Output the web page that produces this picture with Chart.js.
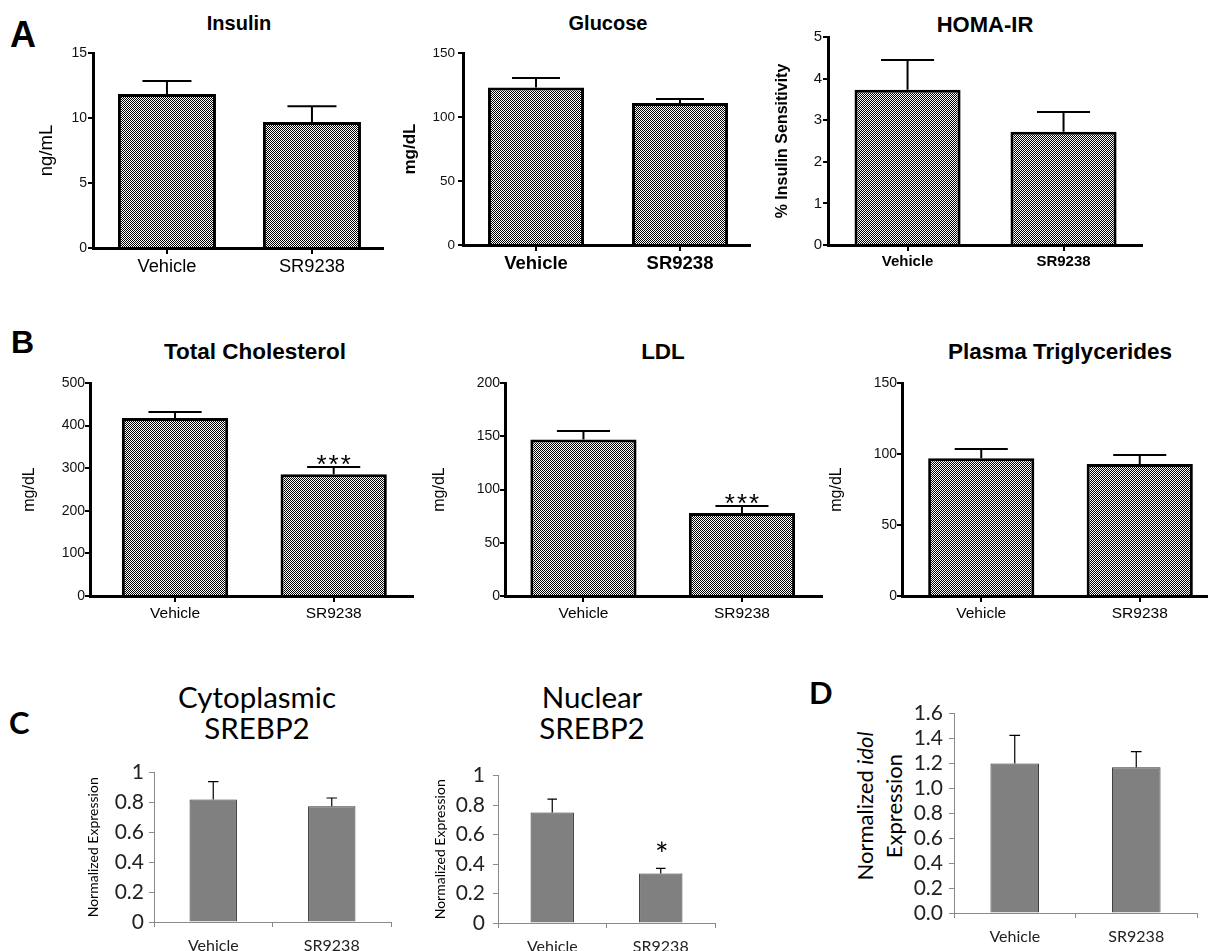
<!DOCTYPE html>
<html>
<head>
<meta charset="utf-8">
<title>SR9238 metabolic panels</title>
<script src="https://cdn.jsdelivr.net/npm/chart.js@4.4.1/dist/chart.umd.min.js"></script>
<style>
  html, body { margin: 0; padding: 0; background: #fff; }
  body { position: relative; width: 1208px; height: 951px; overflow: hidden; }
  canvas { position: absolute; }
  .txt { position: absolute; white-space: nowrap; transform: translate(-50%, -50%); line-height: 1; color: #000; text-align: center; }
  .letter { position: absolute; transform: translateY(-50%); line-height: 1; font-weight: bold; color: #000; }
  .prism { font-family: Arial, 'Liberation Sans', sans-serif; }
  .xl { font-family: Lato, 'Open Sans', sans-serif; }
  .bold { font-weight: bold; }
</style>
</head>
<body>

<div class="letter prism" style="left:10px;top:35px;font-size:36px">A</div>
<div class="letter prism" style="left:11px;top:342px;font-size:32px">B</div>
<div class="letter xl" style="left:9px;top:722px;font-size:31px">C</div>
<div class="letter xl" style="left:809px;top:692px;font-size:31px">D</div>

<div class="txt prism bold" style="left:239px;top:23px;font-size:20px">Insulin</div>
<div class="txt prism bold" style="left:608px;top:23px;font-size:20px">Glucose</div>
<div class="txt prism bold" style="left:985px;top:25px;font-size:22px">HOMA-IR</div>

<div class="txt prism bold" style="left:255px;top:352px;font-size:22.5px">Total Cholesterol</div>
<div class="txt prism bold" style="left:663px;top:352px;font-size:22.5px">LDL</div>
<div class="txt prism bold" style="left:1060px;top:352px;font-size:22.5px">Plasma Triglycerides</div>

<div class="txt xl" style="left:257px;top:712px;font-size:29.5px;line-height:31px">Cytoplasmic<br>SREBP2</div>
<div class="txt xl" style="left:592px;top:712px;font-size:29.5px;line-height:31px">Nuclear<br>SREBP2</div>

<div class="txt xl" style="left:879px;top:806px;font-size:22px;line-height:29px;transform:translate(-50%,-50%) rotate(-90deg)">Normalized <i>idol</i><br>Expression</div>

<script>
var groups = ["Vehicle", "SR9238"];

// A
var insulin = [11.85, 9.7];
var insulinErr = [1.0, 1.2];
var glucose = [123, 111];
var glucoseErr = [7.5, 3];
var homaIR = [3.73, 2.72];
var homaIRErr = [0.72, 0.48];

// B
var cholesterol = [418, 286];
var cholesterolErr = [14, 17];
var ldl = [147, 78];
var ldlErr = [8, 6.5];
var triglycerides = [97, 93];
var triglyceridesErr = [6.5, 6.3];

// C, D
var cytoSREBP2 = [0.82, 0.775];
var cytoSREBP2Err = [0.12, 0.055];
var nucSREBP2 = [0.75, 0.335];
var nucSREBP2Err = [0.09, 0.035];
var idol = [1.2, 1.17];
var idolErr = [0.225, 0.125];

var cholesterolStars = ["", "***"];
var ldlStars = ["", "***"];
var nucStars = ["", "*"];

var ARIAL = "Arial, 'Liberation Sans', sans-serif";
var CALIBRI = "Lato, 'Open Sans', sans-serif";

// checkered fill like the Prism bars
var checker = (function () {
  var c = document.createElement('canvas');
  c.width = 2; c.height = 2;
  var g = c.getContext('2d');
  g.fillStyle = '#fff'; g.fillRect(0, 0, 2, 2);
  g.fillStyle = '#000'; g.fillRect(0, 0, 1, 1); g.fillRect(1, 1, 1, 1);
  return g.createPattern(c, 'repeat');
})();

// one-sided (upper) SEM bars + significance stars
var errorBars = {
  id: 'errorBars',
  afterDatasetsDraw: function (chart, args, opts) {
    var ds = chart.data.datasets[0];
    if (!ds.errors) return;
    var meta = chart.getDatasetMeta(0);
    var y = chart.scales.y;
    var ctx = chart.ctx;
    ctx.save();
    ctx.strokeStyle = opts.color;
    ctx.lineWidth = opts.width;
    ctx.fillStyle = '#000';
    ctx.textAlign = 'center';
    ctx.textBaseline = 'alphabetic';
    ctx.font = opts.starFont;
    if ('letterSpacing' in ctx) ctx.letterSpacing = opts.starSpacing;
    meta.data.forEach(function (bar, i) {
      var top = y.getPixelForValue(ds.values[i] + ds.errors[i]);
      var half = bar.width * opts.cap / 2;
      ctx.beginPath();
      ctx.moveTo(bar.x, bar.y);
      ctx.lineTo(bar.x, top);
      ctx.moveTo(bar.x - half, top);
      ctx.lineTo(bar.x + half, top);
      ctx.stroke();
      if (ds.stars && ds.stars[i]) {
        ctx.fillText(ds.stars[i], bar.x + 1, top - opts.starGap);
      }
    });
    ctx.restore();
  }
};
Chart.register(errorBars);

var panels = [
  { prism: true, box: [30, 40, 360, 250], plot: [93, 53, 383, 248], xRange: [-0.51, 1.49], bar: 0.676,
    values: insulin, errors: insulinErr, max: 15, step: 5,
    tickSize: 14, tickPad: 1, xSize: 18.3, xBold: false, xPad: 2,
    yTitle: 'ng/mL', yTitleSize: 18.5, yTitleBold: false, yTitleX: 47 },
  { prism: true, box: [398, 40, 360, 250], plot: [463, 53, 750, 245], xRange: [-0.507, 1.486], bar: 0.667,
    values: glucose, errors: glucoseErr, max: 150, step: 50,
    tickSize: 13.5, tickPad: 3, xSize: 18.5, xBold: true, xPad: 2,
    yTitle: 'mg/dL', yTitleSize: 17, yTitleBold: true, yTitleX: 410 },
  { prism: true, box: [770, 25, 385, 265], plot: [828, 37, 1142, 245], xRange: [-0.51, 1.503], bar: 0.68,
    values: homaIR, errors: homaIRErr, max: 5, step: 1,
    tickSize: 15, tickPad: 1, xSize: 15, xBold: true, xPad: 2,
    yTitle: '% Insulin Sensitivity', yTitleSize: 16, yTitleBold: true, yTitleX: 783 },

  { prism: true, box: [18, 370, 400, 250], plot: [90, 383, 413, 596], xRange: [-0.536, 1.5], bar: 0.67,
    values: cholesterol, errors: cholesterolErr, stars: cholesterolStars, max: 500, step: 100,
    tickSize: 14, tickPad: 0, xSize: 15.5, xBold: false, xPad: 2,
    yTitle: 'mg/dL', yTitleSize: 16, yTitleBold: false, yTitleX: 30 },
  { prism: true, box: [428, 370, 400, 250], plot: [505, 383, 822, 596], xRange: [-0.495, 1.505], bar: 0.67,
    values: ldl, errors: ldlErr, stars: ldlStars, max: 200, step: 50,
    tickSize: 14, tickPad: 0, xSize: 15.5, xBold: false, xPad: 2,
    yTitle: 'mg/dL', yTitleSize: 16, yTitleBold: false, yTitleX: 440 },
  { prism: true, box: [825, 370, 400, 250], plot: [902, 383, 1219, 596], xRange: [-0.5, 1.5], bar: 0.67,
    values: triglycerides, errors: triglyceridesErr, max: 150, step: 50,
    tickSize: 14, tickPad: 0, xSize: 15.5, xBold: false, xPad: 2,
    yTitle: 'mg/dL', yTitleSize: 16, yTitleBold: false, yTitleX: 837 },

  { prism: false, box: [82, 755, 315, 196], plot: [154, 770, 391, 922], bar: 0.4,
    values: cytoSREBP2, errors: cytoSREBP2Err, max: 1, step: 0.2,
    tickSize: 21, tickPad: 5, xSize: 16, xPad: 9,
    yTitle: 'Normalized Expression', yTitleSize: 14, yTitleBold: false, yTitleX: 93,
    fmt: function (v) { return String(Math.round(v * 10) / 10); } },
  { prism: false, box: [428, 755, 292, 196], plot: [498, 768, 715, 923], bar: 0.4,
    values: nucSREBP2, errors: nucSREBP2Err, stars: nucStars, max: 1, step: 0.2,
    tickSize: 21, tickPad: 8, xSize: 16, xPad: 9,
    yTitle: 'Normalized Expression', yTitleSize: 14, yTitleBold: false, yTitleX: 440,
    fmt: function (v) { return String(Math.round(v * 10) / 10); } },
  { prism: false, box: [900, 695, 305, 256], plot: [954, 708, 1197, 913], bar: 0.4,
    values: idol, errors: idolErr, max: 1.6, step: 0.2,
    tickSize: 21, tickPad: 6, xSize: 16, xPad: 9,
    fmt: function (v) { return v.toFixed(1); } }
];

function makeChart(p) {
  var cv = document.createElement('canvas');
  cv.width = p.box[2];
  cv.height = p.box[3];
  cv.style.left = p.box[0] + 'px';
  cv.style.top = p.box[1] + 'px';
  document.body.appendChild(cv);

  var font = p.prism ? ARIAL : CALIBRI;
  var ink = p.prism ? '#000' : '#8a8a8a';
  var yW = p.plot[0] - p.box[0];
  var xH = p.box[1] + p.box[3] - p.plot[3];

  var x = {
    ticks: {
      font: { family: font, size: p.xSize, weight: p.xBold ? 'bold' : 'normal' },
      color: p.prism ? '#000' : '#222', padding: p.xPad, maxRotation: 0, autoSkip: false
    },
    grid: { display: true, drawOnChartArea: false, drawTicks: true, tickLength: p.prism ? 6 : 5,
            color: ink, lineWidth: p.prism ? 2 : 1, offset: !p.prism },
    border: { display: true, color: ink, width: p.prism ? 3 : 1 },
    afterFit: function (s) { s.height = xH; },
    z: 1
  };
  if (p.prism) {
    x.type = 'linear';
    x.min = p.xRange[0];
    x.max = p.xRange[1];
    x.offset = false;
    x.afterBuildTicks = function (s) { s.ticks = groups.map(function (g, i) { return { value: i }; }); };
    x.ticks.callback = function (v) { return groups[v]; };
  } else {
    x.type = 'category';
    x.labels = groups;
    x.offset = true;
  }

  var yTicks = {
    stepSize: p.step,
    autoSkip: false,
    font: { family: font, size: p.tickSize },
    color: p.prism ? '#111' : '#222',
    padding: p.tickPad
  };
  if (p.fmt) yTicks.callback = p.fmt;

  var y = {
    min: 0, max: p.max,
    ticks: yTicks,
    grid: { drawOnChartArea: false, drawTicks: true, tickLength: 5, color: ink, lineWidth: p.prism ? 2 : 1 },
    border: { display: true, color: ink, width: p.prism ? 3 : 1 },
    title: { display: false },
    afterFit: function (s) { s.width = yW; }
  };
  if (p.yTitle) {
    y.title = {
      display: true, text: p.yTitle, color: '#000',
      font: { family: font, size: p.yTitleSize, weight: p.yTitleBold ? 'bold' : 'normal', lineHeight: 1.2 },
      padding: { top: p.yTitleX - p.box[0] - p.yTitleSize * 0.6, bottom: 0 }
    };
  }

  new Chart(cv, {
    type: 'bar',
    data: {
      datasets: [{
        data: p.values.map(function (v, i) { return { x: i, y: v }; }),
        values: p.values,
        errors: p.errors,
        stars: p.stars,
        backgroundColor: p.prism ? checker : '#808080',
        borderColor: p.prism ? '#000' : '#333',
        borderWidth: p.prism ? 3 : 1,
        borderSkipped: 'start',
        barPercentage: p.bar,
        categoryPercentage: 1
      }]
    },
    options: {
      responsive: false,
      animation: false,
      devicePixelRatio: 1,
      layout: { padding: { left: 0, top: p.plot[1] - p.box[1], right: p.box[0] + p.box[2] - p.plot[2], bottom: 0 } },
      plugins: {
        legend: { display: false },
        tooltip: { enabled: false },
        errorBars: {
          color: '#000',
          width: p.prism ? 2 : 1.2,
          cap: p.prism ? 0.5 : 0.22,
          starFont: p.prism ? '26px ' + ARIAL : '32px ' + CALIBRI,
          starSpacing: p.prism ? '2px' : '0px',
          starGap: p.prism ? -6 : 2
        }
      },
      scales: { x: x, y: y }
    }
  });
}

panels.forEach(makeChart);
</script>
</body>
</html>
